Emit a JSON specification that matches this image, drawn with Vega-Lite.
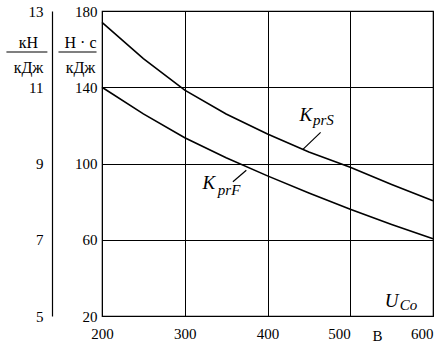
{
  "$schema": "https://vega.github.io/schema/vega-lite/v6.json",
  "width": 331,
  "height": 305,
  "autosize": "none",
  "padding": {"left": 102, "top": 11, "right": 11, "bottom": 31},
  "background": "white",
  "config": {
    "view": {"stroke": "black", "strokeWidth": 1.2},
    "font": "Liberation Serif",
    "axis": {"labelFont": "Liberation Serif", "titleFont": "Liberation Serif", "labelColor": "black", "titleColor": "black", "titleFontWeight": "normal"}
  },
  "datasets": {
    "curves": [
      {"series": "KprS", "u": 200, "k": 174},
      {"series": "KprS", "u": 250, "k": 155},
      {"series": "KprS", "u": 300, "k": 138.5},
      {"series": "KprS", "u": 350, "k": 126},
      {"series": "KprS", "u": 400, "k": 115.5},
      {"series": "KprS", "u": 450, "k": 106},
      {"series": "KprS", "u": 500, "k": 98},
      {"series": "KprS", "u": 550, "k": 89},
      {"series": "KprS", "u": 600, "k": 80.5},
      {"series": "KprF", "u": 200, "k": 140},
      {"series": "KprF", "u": 250, "k": 126},
      {"series": "KprF", "u": 300, "k": 113.5},
      {"series": "KprF", "u": 350, "k": 103},
      {"series": "KprF", "u": 400, "k": 93.5},
      {"series": "KprF", "u": 450, "k": 84.5},
      {"series": "KprF", "u": 500, "k": 76},
      {"series": "KprF", "u": 550, "k": 68},
      {"series": "KprF", "u": 600, "k": 60.5}
    ],
    "labels": [
      {"t": "K", "u": 438.8, "k": 122.4, "part": "main"},
      {"t": "prS", "u": 454.9, "k": 120.2, "part": "sub"},
      {"t": "K", "u": 321.5, "k": 86.6, "part": "main"},
      {"t": "prF", "u": 340, "k": 83.4, "part": "sub"},
      {"t": "U", "u": 541.6, "k": 24.6, "part": "main"},
      {"t": "Co", "u": 559.7, "k": 23.4, "part": "sub"}
    ],
    "leaders": [
      {"u": 464.2, "k": 116.3, "u2": 442.8, "k2": 107.4},
      {"u": 374.4, "k": 96.5, "u2": 358.2, "k2": 90.4}
    ],
    "fractionBars": [
      {"u": 84.5, "u2": 134, "k": 158.5},
      {"u": 147.4, "u2": 193.4, "k": 158.5}
    ]
  },
  "layer": [
    {
      "layer": [
        {
          "data": {"name": "curves"},
          "mark": {"type": "line", "color": "black", "strokeWidth": 1.6, "clip": false},
          "encoding": {
            "x": {
              "field": "u", "type": "quantitative",
              "scale": {"domain": [200, 600], "nice": false, "zero": false},
              "axis": {
                "values": [200, 300, 400, 500, 600],
                "grid": true, "gridColor": "black", "gridWidth": 1, "gridOpacity": 1,
                "domain": false, "ticks": false, "labelFlush": false,
                "labelAlign": {"condition": {"test": "datum.value >= 500", "value": "right"}, "value": "center"},
                "labelFontSize": 15, "labelPadding": 10,
                "title": "В", "titleFontSize": 15, "titleAngle": 0,
                "titleX": 275, "titleY": 19, "titleBaseline": "middle", "titleAlign": "center"
              }
            },
            "y": {
              "field": "k", "type": "quantitative",
              "scale": {"domain": [20, 180], "nice": false, "zero": false},
              "axis": {
                "values": [20, 60, 100, 140, 180],
                "grid": true, "gridColor": "black", "gridWidth": 1, "gridOpacity": 1,
                "domain": false, "ticks": false,
                "labelFontSize": 15, "labelPadding": 5,
                "title": ["Н · с", "кДж"],
                "titleFontSize": 16, "titleLineHeight": 25, "titleAngle": 0,
                "titleX": -22, "titleY": 36, "titleAlign": "center", "titleBaseline": "alphabetic"
              }
            },
            "detail": {"field": "series"}
          }
        },
        {
          "data": {"name": "fractionBars"},
          "mark": {"type": "rule", "color": "black", "strokeWidth": 1.2},
          "encoding": {
            "x": {"field": "u", "type": "quantitative"},
            "x2": {"field": "u2"},
            "y": {"field": "k", "type": "quantitative"}
          }
        },
        {
          "data": {"name": "labels"},
          "transform": [{"filter": "datum.part === 'main'"}],
          "mark": {"type": "text", "align": "left", "baseline": "alphabetic", "fontStyle": "italic", "fontSize": 19, "font": "Liberation Serif", "color": "black"},
          "encoding": {
            "x": {"field": "u", "type": "quantitative"},
            "y": {"field": "k", "type": "quantitative"},
            "text": {"field": "t"}
          }
        },
        {
          "data": {"name": "labels"},
          "transform": [{"filter": "datum.part === 'sub'"}],
          "mark": {"type": "text", "align": "left", "baseline": "alphabetic", "fontStyle": "italic", "fontSize": 15, "font": "Liberation Serif", "color": "black"},
          "encoding": {
            "x": {"field": "u", "type": "quantitative"},
            "y": {"field": "k", "type": "quantitative"},
            "text": {"field": "t"}
          }
        }
      ]
    },
    {
      "data": {"name": "leaders"},
      "mark": {"type": "rule", "color": "black", "strokeWidth": 1.2},
      "encoding": {
        "x": {"field": "u", "type": "quantitative"},
        "x2": {"field": "u2"},
        "y": {
          "field": "k", "type": "quantitative",
          "scale": {"domain": [20, 180], "nice": false, "zero": false},
          "axis": {
            "orient": "left", "offset": 50,
            "values": [20, 60, 100, 140, 180],
            "labelExpr": "(datum.value - 20) / 20 + 5",
            "grid": false, "domain": true, "domainColor": "black", "domainWidth": 1.2,
            "ticks": false, "labelFontSize": 15, "labelPadding": 9,
            "title": ["кН", "кДж"],
            "titleFontSize": 16, "titleLineHeight": 25, "titleAngle": 0,
            "titleX": -24, "titleY": 36, "titleAlign": "center", "titleBaseline": "alphabetic"
          }
        },
        "y2": {"field": "k2"}
      }
    }
  ],
  "resolve": {"scale": {"y": "independent"}}
}
